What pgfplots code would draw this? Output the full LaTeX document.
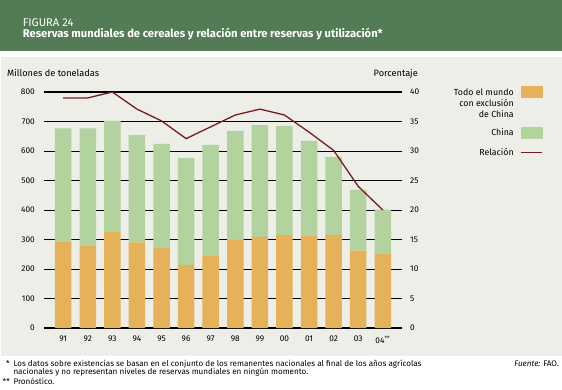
\documentclass[border=0pt]{standalone}
\usepackage{pgfplots}
\pgfplotsset{compat=1.18}
\usepackage{fontspec}
\setmainfont{Fira Sans}
\definecolor{hdrgreen}{RGB}{82,123,86}
\definecolor{panel}{RGB}{236,238,231}
\definecolor{cOrange}{RGB}{229,177,89}
\definecolor{cGreen}{RGB}{178,210,158}
\definecolor{cRed}{RGB}{122,26,36}
\pgfplotstableread{
x tot ora chi rel
0 677 293 384 39.0
1 677 280 397 39.0
2 702 327 375 40.0
3 654 290 364 37.1
4 624 273 351 35.1
5 577 214 363 32.1
6 621 246 375 34.1
7 668 299 369 36.1
8 688 309 379 37.1
9 685 316 369 36.1
10 634 314 320 33.2
11 580 316 264 30.1
12 468 262 206 24.0
13 401 253 148 20.0
}\datatab
\newcommand\rl[1]{\hbox to 75pt{\hfil #1}}
\begin{document}
\begin{tikzpicture}[x=1pt,y=1pt]
\useasboundingbox (0,0) rectangle (562,389);
\fill[white] (0,0) rectangle (562,389);
\fill[hdrgreen] (0,338) rectangle (562,389);
\fill[panel] (1,33.5) rectangle (562,331.7);
\node[anchor=base west, inner sep=0pt, text=white, font=\fontsize{11.2}{13}\selectfont] at (22.7,362.3) {FIGURA 24};
\node[anchor=base west, inner sep=0pt, text=white, font=\fontsize{11.2}{13}\selectfont\bfseries] at (22.7,351.3) {Reservas mundiales de cereales y relación entre reservas y utilización*};
\node[anchor=base west, inner sep=0pt, font=\fontsize{9.2}{10}\selectfont] at (7,312.3) {Millones de toneladas};
\node[anchor=base east, inner sep=0pt, font=\fontsize{9.2}{10}\selectfont] at (418,312.3) {Porcentaje};
\begin{axis}[
  at={(44pt,61pt)}, anchor=south west, scale only axis,
  width=358pt, height=236pt,
  xmin=-0.78, xmax=13.78, ymin=0, ymax=800,
  ybar stacked, bar width=16.5pt,
  axis line style={draw=none}, tick style={draw=none},
  axis x line*=bottom, axis y line*=left,
  xtick={0,...,13},
  xticklabels={91,92,93,94,95,96,97,98,99,00,01,02,03,04\textsuperscript{**}},
  ytick={0,100,...,800},
  ymajorgrids, grid style={black, line width=0.75pt},
  extra y ticks={0,500,800}, extra y tick labels={},
  extra y tick style={grid style={black, line width=1.5pt}},
  /pgf/number format/assume math mode=true,
  tick label style={font=\fontsize{8.3}{9}\selectfont},
  yticklabel style={anchor=east, inner sep=0pt, xshift=-9pt},
  xticklabel style={anchor=north, inner sep=0pt, yshift=-8pt},
]
\addplot[fill=cOrange, draw=none] table[x=x, y=ora] {\datatab};
\addplot[fill=cGreen, draw=none] table[x=x, y=chi] {\datatab};
\end{axis}
\begin{axis}[
  at={(44pt,61pt)}, anchor=south west, scale only axis,
  width=358pt, height=236pt,
  xmin=-0.78, xmax=13.78, ymin=0, ymax=40,
  axis x line=none, axis y line*=right,
  axis line style={draw=none}, tick style={draw=none},
  ytick={0,5,...,40},
  /pgf/number format/assume math mode=true,
  tick label style={font=\fontsize{8.3}{9}\selectfont},
  yticklabel style={anchor=west, inner sep=0pt, xshift=8pt},
  legend plot pos=right,
  legend style={draw=none, fill=none, inner sep=0pt, outer sep=0pt,
    at={(1.3939,1.0254)}, anchor=north east,
    row sep=9.4pt, column sep=7pt,
    cells={anchor=base east},
    nodes={inner sep=0pt, text depth=, font=\fontsize{8.8}{11}\selectfont}},
]
\addlegendimage{legend image code/.code={\fill[cOrange] (0pt,-2pt) rectangle (21pt,9pt);}}
\addlegendentry{\vtop{\baselineskip=11pt\rl{Todo el mundo}\rl{con exclusión}\rl{de China}}}
\addlegendimage{legend image code/.code={\fill[cGreen] (0pt,-2pt) rectangle (21pt,9pt);}}
\addlegendentry{China}
\addplot[cRed, line width=1.3pt, sharp plot, no markers,
  legend image code/.code={\draw[cRed, line width=1.3pt] (0pt,3.3pt) -- (21pt,3.3pt);}]
  table[x=x, y=rel] {\datatab};
\addlegendentry{\rule{0pt}{8.1pt}Relación}
\end{axis}
\node[anchor=base west, inner sep=0pt, font=\fontsize{8.1}{9}\selectfont] at (6,23) {*};
\node[anchor=base west, inner sep=0pt, font=\fontsize{8.1}{9}\selectfont] at (13.3,23) {Los datos sobre existencias se basan en el conjunto de los remanentes nacionales al final de los años agrícolas};
\node[anchor=base west, inner sep=0pt, font=\fontsize{8.1}{9}\selectfont] at (13.3,14.3) {nacionales y no representan niveles de reservas mundiales en ningún momento.};
\node[anchor=base west, inner sep=0pt, font=\fontsize{8.1}{9}\selectfont] at (2.5,4.7) {**};
\node[anchor=base west, inner sep=0pt, font=\fontsize{8.1}{9}\selectfont] at (13.3,4.7) {Pronóstico.};
\node[anchor=base east, inner sep=0pt, font=\fontsize{8.1}{9}\selectfont] at (559,23) {\textit{Fuente:} FAO.};
\end{tikzpicture}
\end{document}
